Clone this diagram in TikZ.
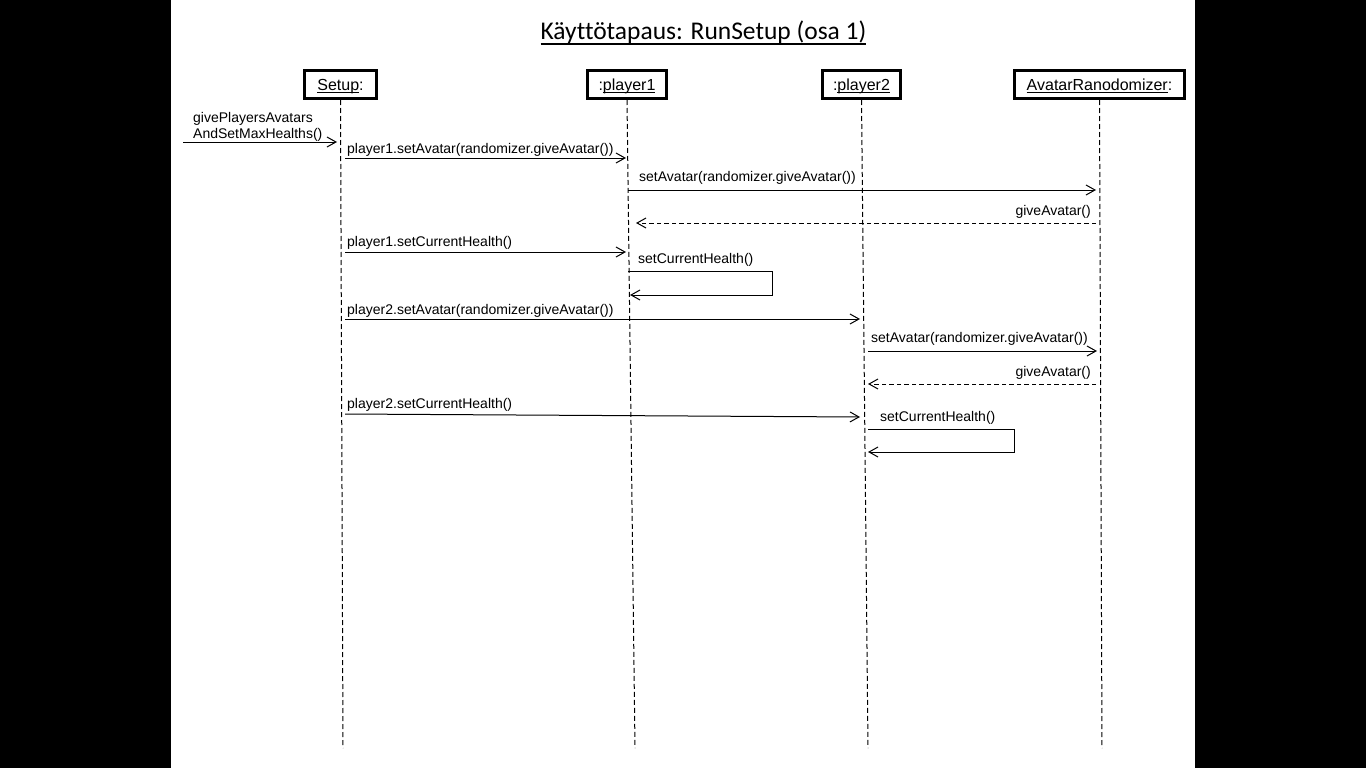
\documentclass[tikz,border=0pt]{standalone}
\usepackage{fontspec}
\setmainfont{Liberation Sans}
\newfontfamily\titlefont[Ligatures=NoCommon]{Carlito}
\usetikzlibrary{arrows.meta,calc}
\newcommand\myul[3]{\setbox0\hbox{#3}\rlap{\rule[-#1]{\wd0}{#2}}\box0}
\begin{document}
\begin{tikzpicture}[x=1pt,y=-1pt,
  obj/.style={draw, line width=3pt, inner sep=0pt, minimum height=28pt,
    text height=11.5pt, text depth=0pt, font=\fontsize{16}{19}\selectfont},
  life/.style={line width=1pt, dash pattern=on 5pt off 3pt},
  msg/.style={line width=1pt, -{Straight Barb[length=9pt,width=10pt]}},
  ret/.style={msg, dash pattern=on 4.5pt off 3pt},
  lbl/.style={font=\fontsize{14}{16}\selectfont, inner sep=0pt}]
\fill[black] (0,0) rectangle (1366,768);
\fill[white] (171,0) rectangle (1195,768);
\useasboundingbox (0,0) rectangle (1366,768);

% title
\node[anchor=base, inner sep=0pt, font=\titlefont\fontsize{25.5}{30}\selectfont] (title) at (703.5,40)
  {\myul{5pt}{2pt}{Käyttötapaus: RunSetup (osa 1)}};

% objects
\node[obj, minimum width=72pt] (S) at (340.5,84.5) {\myul{3pt}{1pt}{Setup}:};
\node[obj, minimum width=79pt] (P1) at (627,84.5) {:\myul{3pt}{1pt}{player1}};
\node[obj, minimum width=78pt] (P2) at (861.5,84.5) {:\myul{3pt}{1pt}{player2}};
\node[obj, minimum width=170pt] (AR) at (1099.5,84.5) {\myul{3pt}{1pt}{AvatarRanodomizer}:};

% lifelines
\coordinate (Sb) at (343,748);
\coordinate (P1b) at (635,748);
\coordinate (P2b) at (868,748);
\coordinate (ARb) at (1102,748);
\draw[life] (S.south) -- (Sb);
\draw[life] (P1.south) -- (P1b);
\draw[life] (P2.south) -- (P2b);
\draw[life] (AR.south) -- (ARb);

% rows
\foreach \n/\y in {1/142,2/158,3/190,4/223,5/252,6a/271,6b/295,7/319,8/351,9/384,10a/414,10b/417,11a/429,11b/452}
  \coordinate (r\n) at (0,\y);
\coordinate (f0) at (183,142);

% messages
\draw[msg] (f0) -- ($(S|-r1)+(-3.5,0)$);
\draw[msg] ($(S|-r2)+(4.5,0)$) -- ($(P1|-r2)+(-1,0)$);
\draw[msg] ($(P1|-r3)+(1,0)$) -- ($(AR|-r3)+(-3.5,0)$);
\draw[ret] ($(AR|-r4)+(-3.5,0)$) -- ($(P1|-r4)+(9,0)$);
\draw[msg] ($(S|-r5)+(4.5,0)$) -- ($(P1|-r5)+(-1,0)$);
\draw[msg] ($(P1|-r6a)+(1,0)$) -- ++(144,0) -- ++(0,24) -- ($(P1|-r6b)+(3,0)$);
\draw[msg] ($(S|-r7)+(4.5,0)$) -- ($(P2|-r7)+(-1.5,0)$);
\draw[msg] ($(P2|-r8)+(6.5,0)$) -- ($(AR|-r8)+(-2.5,0)$);
\draw[ret] ($(AR|-r9)+(-3.5,0)$) -- ($(P2|-r9)+(6.5,0)$);
\draw[msg] ($(S|-r10a)+(4.5,0)$) -- ($(P2|-r10b)+(-1.5,0)$);
\draw[msg] ($(P2|-r11a)+(6.5,0)$) -- ++(146,0) -- ++(0,23) -- ($(P2|-r11b)+(6.5,0)$);

% labels
\node[lbl, anchor=base west] (l1a) at (193,122) {givePlayersAvatars};
\node[lbl, anchor=base west] (l1b) at (193,138) {AndSetMaxHealths()};
\node[lbl, anchor=base west] (l2) at (347,153) {player1.setAvatar(randomizer.giveAvatar())};
\node[lbl, anchor=base west] (l3) at (639,181) {setAvatar(randomizer.giveAvatar())};
\node[lbl, anchor=base east] (l4) at (1091,215) {giveAvatar()};
\node[lbl, anchor=base west] (l5) at (347,246) {player1.setCurrentHealth()};
\node[lbl, anchor=base west] (l6) at (638,263) {setCurrentHealth()};
\node[lbl, anchor=base west] (l7) at (347,314) {player2.setAvatar(randomizer.giveAvatar())};
\node[lbl, anchor=base west] (l8) at (871,342) {setAvatar(randomizer.giveAvatar())};
\node[lbl, anchor=base east] (l9) at (1091,376) {giveAvatar()};
\node[lbl, anchor=base west] (l10) at (347,408) {player2.setCurrentHealth()};
\node[lbl, anchor=base west] (l11) at (880,421) {setCurrentHealth()};
\end{tikzpicture}
\end{document}
